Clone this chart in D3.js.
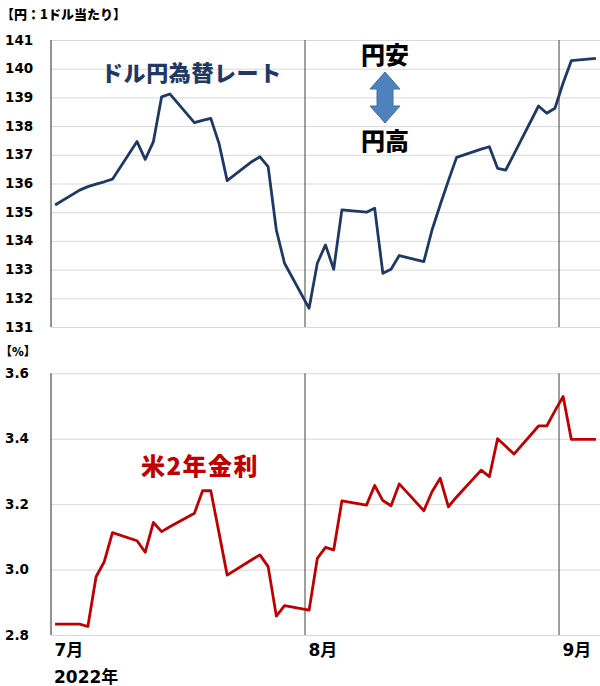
<!DOCTYPE html>
<html>
<head>
<meta charset="utf-8">
<script src="https://cdn.jsdelivr.net/npm/d3@7"></script>
<style>
  body { margin: 0; background: #fff; }
  svg { display: block; }
  text { font-family: "DejaVu Sans", "Noto Sans CJK JP", sans-serif; font-weight: bold; }
  .jp { font-family: "Noto Sans CJK JP", sans-serif; font-weight: 900; }
</style>
</head>
<body>
<svg id="chart"></svg>
<script>
// trading days, Jul 1 - Sep 5 2022
var days = ["2022-07-01","2022-07-04","2022-07-05","2022-07-06","2022-07-07","2022-07-08",
  "2022-07-11","2022-07-12","2022-07-13","2022-07-14","2022-07-15",
  "2022-07-18","2022-07-19","2022-07-20","2022-07-21","2022-07-22",
  "2022-07-25","2022-07-26","2022-07-27","2022-07-28","2022-07-29",
  "2022-08-01","2022-08-02","2022-08-03","2022-08-04","2022-08-05",
  "2022-08-08","2022-08-09","2022-08-10","2022-08-11","2022-08-12",
  "2022-08-15","2022-08-16","2022-08-17","2022-08-18","2022-08-19",
  "2022-08-22","2022-08-23","2022-08-24","2022-08-25","2022-08-26",
  "2022-08-29","2022-08-30","2022-08-31","2022-09-01","2022-09-02","2022-09-05"];

// yen per dollar
var usdjpy = [135.25,135.77,135.89,135.98,136.06,136.15,
  137.46,136.84,137.46,139.02,139.12,
  138.12,138.20,138.27,137.40,136.10,
  136.76,136.93,136.59,134.38,133.22,
  131.65,133.22,133.86,133.01,135.08,
  135.00,135.14,132.87,133.01,133.49,
  133.28,134.38,135.26,136.10,136.91,
  137.20,137.28,136.53,136.47,137.02,
  138.70,138.45,138.62,139.50,140.28,140.36];

// US 2-year yield, %
var us2y = [2.833,2.833,2.826,2.978,3.024,3.113,
  3.088,3.053,3.144,3.116,3.131,
  3.172,3.241,3.241,3.113,2.983,
  3.030,3.045,3.009,2.858,2.890,
  2.876,3.034,3.068,3.060,3.210,
  3.197,3.257,3.211,3.195,3.262,
  3.180,3.238,3.279,3.192,3.222,
  3.304,3.284,3.400,3.377,3.353,
  3.439,3.439,3.485,3.529,3.398,3.398];

var fxTicks = [131,132,133,134,135,136,137,138,139,140,141];
var rateTicks = [2.8,3.0,3.2,3.4,3.6];
var monthTicks = ["2022-07-01","2022-08-01","2022-09-01"];
var monthLabels = ["7月","8月","9月"];

var W = 600, H = 686;
var svg = d3.select('#chart').attr('width', W).attr('height', H);

var parse = d3.timeParse('%Y-%m-%d');
var noon = function(s) { return d3.timeHour.offset(parse(s), 12); };

var x = d3.scaleTime()
  .domain([parse("2022-07-01"), parse("2022-09-06")])
  .range([51, 600]);

var yFx = d3.scaleLinear().domain([131, 141]).range([327, 40]);
var yRate = d3.scaleLinear().domain([2.8, 3.6]).range([635, 373.3]);

function panel(y, ticks, fmt, values, color) {
  var g = svg.append('g');
  // gridlines + tick labels
  var ax = g.append('g').attr('transform', 'translate(51,0)')
    .call(d3.axisLeft(y).tickValues(ticks).tickSize(-549).tickFormat(fmt).tickPadding(0));
  ax.select('.domain').remove();
  ax.selectAll('line').attr('stroke', '#d9d9d9').attr('stroke-width', 1);
  ax.selectAll('text')
    .attr('x', -46).attr('text-anchor', 'start')
    .attr('fill', '#000').style('font-size', '13.5px')
    .attr('dy', '0.3em');

  var top = y.range()[1], bot = y.range()[0];
  // month separators
  g.selectAll('.msep').data(monthTicks.slice(1)).enter().append('line')
    .attr('x1', function(d) { return x(parse(d)); })
    .attr('x2', function(d) { return x(parse(d)); })
    .attr('y1', top).attr('y2', bot)
    .attr('stroke', '#404040').attr('stroke-width', 1);
  // left axis
  g.append('line').attr('x1', 51).attr('x2', 51).attr('y1', top).attr('y2', bot)
    .attr('stroke', '#262626').attr('stroke-width', 1);

  var line = d3.line()
    .x(function(d, i) { return x(noon(days[i])); })
    .y(function(d) { return y(d); });
  g.append('path').datum(values)
    .attr('d', line)
    .attr('fill', 'none')
    .attr('stroke', color)
    .attr('stroke-width', 2.8)
    .attr('stroke-linejoin', 'round');
}

panel(yFx, fxTicks, d3.format('d'), usdjpy, '#1f3864');
panel(yRate, rateTicks, d3.format('.1f'), us2y, '#c00000');

// month labels
var xa = svg.append('g').attr('transform', 'translate(0,656)')
  .call(d3.axisBottom(x).tickValues(monthTicks.map(parse)).tickSize(0)
    .tickFormat(function(d, i) { return monthLabels[i]; }));
xa.select('.domain').remove();
xa.selectAll('text').attr('y', 0).attr('dy', 0).attr('x', 3)
  .attr('text-anchor', 'start').attr('fill', '#000').style('font-size', '17px');
svg.append('text').attr('x', x(parse("2022-07-01")) + 3).attr('y', 683)
  .style('font-size', '17px').text('2022年');

// unit labels
svg.append('text').attr('class', 'jp').attr('x', 1).attr('y', 19)
  .style('font-size', '13px').text('【円：1ドル当たり】');
svg.append('text').attr('class', 'jp').attr('x', 0).attr('y', 356)
  .style('font-size', '12px').text('【%】');

// series titles
svg.append('text').attr('class', 'jp').attr('x', 101).attr('y', 81)
  .attr('fill', '#1f3864').style('font-size', '22px').style('letter-spacing', '0.6px')
  .text('ドル円為替レート');
svg.append('text').attr('class', 'jp').attr('x', 141).attr('y', 475)
  .attr('fill', '#c00000').style('font-size', '24px').style('letter-spacing', '1.5px')
  .text('米2年金利');

// yen weak / strong
svg.append('text').attr('class', 'jp').attr('x', 361).attr('y', 64)
  .style('font-size', '24px').text('円安');
svg.append('text').attr('class', 'jp').attr('x', 361).attr('y', 150)
  .style('font-size', '24px').text('円高');

var cx = 385, t = 72, b = 123, hw = 15, sw = 8, hl = 17;
svg.append('path')
  .attr('d', 'M' + cx + ',' + t + 'L' + (cx + hw) + ',' + (t + hl) + 'L' + (cx + sw) + ',' + (t + hl) +
    'L' + (cx + sw) + ',' + (b - hl) + 'L' + (cx + hw) + ',' + (b - hl) + 'L' + cx + ',' + b +
    'L' + (cx - hw) + ',' + (b - hl) + 'L' + (cx - sw) + ',' + (b - hl) + 'L' + (cx - sw) + ',' + (t + hl) +
    'L' + (cx - hw) + ',' + (t + hl) + 'Z')
  .attr('fill', '#4f81bd').attr('stroke', '#41719c').attr('stroke-width', 1);
</script>
</body>
</html>
